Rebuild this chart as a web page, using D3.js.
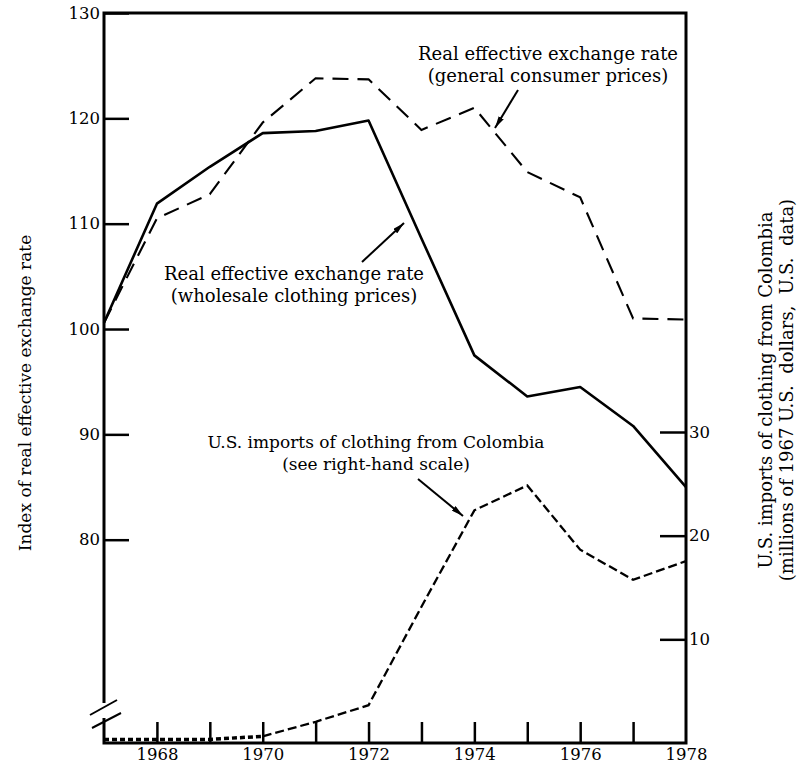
<!DOCTYPE html>
<html>
<head>
<meta charset="utf-8">
<script src="https://cdnjs.cloudflare.com/ajax/libs/d3/7.8.5/d3.min.js"></script>
<style>
  body { margin: 0; background: #fff; }
  text { font-family: "DejaVu Serif", serif; fill: #000; }
  .tick line { stroke: #000; stroke-width: 2.5; }
  .tick text { font-size: 16.5px; }
  .lbl { font-size: 18px; }
</style>
</head>
<body>
<div id="chart"></div>
<script>
var years = [1967, 1968, 1969, 1970, 1971, 1972, 1973, 1974, 1975, 1976, 1977, 1978];
// index values, left scale
var wholesale = [100.6, 111.9, 115.4, 118.6, 118.8, 119.8, 108.6, 97.5, 93.6, 94.5, 90.8, 85.0];
var consumer = [100.6, 110.5, 112.8, 119.6, 123.8, 123.7, 118.9, 121.0, 114.9, 112.5, 101.0, 100.9];
// millions of 1967 US dollars, right scale
var imports = [0.2, 0.2, 0.2, 0.5, 1.9, 3.5, 13.0, 22.3, 24.7, 18.5, 15.6, 17.4];

var leftTicks = [80, 90, 100, 110, 120, 130];
var rightTicks = [10, 20, 30];
var yearLabels = [1968, 1970, 1972, 1974, 1976, 1978];

var margin = {top: 13, left: 104},
    width = 582,
    height = 730;

var svg = d3.select("#chart").append("svg")
    .attr("width", 801)
    .attr("height", 769);

var g = svg.append("g")
    .attr("transform", "translate(" + margin.left + "," + margin.top + ")");

var x = d3.scaleLinear().domain([1967, 1978]).range([0, width]);
var yL = d3.scaleLinear().domain([60.7, 130]).range([height, 0]);
var yR = d3.scaleLinear().domain([0, 30]).range([height, height - 311]);

// axes, ticks pointing inward
g.append("g")
    .call(d3.axisLeft(yL).tickValues(leftTicks).tickSize(-25).tickPadding(4))
    .call(function(a) { a.select(".domain").remove(); });

g.append("g")
    .attr("transform", "translate(" + width + ",0)")
    .call(d3.axisRight(yR).tickValues(rightTicks).tickSize(-26).tickPadding(3))
    .call(function(a) { a.select(".domain").remove(); });

g.append("g")
    .attr("transform", "translate(0," + height + ")")
    .call(d3.axisBottom(x).tickValues(years.slice(1, -1)).tickSize(-21).tickFormat(""))
    .call(function(a) { a.select(".domain").remove(); });

g.append("g")
    .attr("transform", "translate(0," + height + ")")
    .call(d3.axisBottom(x).tickValues(yearLabels).tickSize(0).tickPadding(5).tickFormat(d3.format("d")))
    .call(function(a) { a.select(".domain").remove(); });

g.selectAll(".tick text").attr("fill", "#000");

// frame with a break in the left axis
var frame = g.append("g").attr("stroke", "#000").attr("fill", "none");
frame.append("path").attr("stroke-width", 3)
    .attr("d", "M0," + (height - 40) + "V0H" + width + "V" + height + "H0V" + (height - 25));
frame.append("line").attr("stroke-width", 2)
    .attr("x1", -14).attr("y1", height - 28).attr("x2", 13).attr("y2", height - 43);
frame.append("line").attr("stroke-width", 2)
    .attr("x1", -12).attr("y1", height - 15).attr("x2", 17).attr("y2", height - 30);

var lineL = d3.line().x(function(d, i) { return x(years[i]); }).y(function(d) { return yL(d); });

g.append("path").datum(wholesale)
    .attr("d", lineL)
    .attr("fill", "none").attr("stroke", "#000").attr("stroke-width", 2.6)
    .attr("stroke-linejoin", "round");

g.append("path").datum(consumer)
    .attr("d", lineL)
    .attr("fill", "none").attr("stroke", "#000").attr("stroke-width", 2.1)
    .attr("stroke-dasharray", "16,9");

var pts = imports.map(function(d, i) { return [years[i], d]; });
var lineR = d3.line().x(function(d) { return x(d[0]); }).y(function(d) { return yR(d[1]) - 1.5; });

// dotted near zero until 1970, dashed after
g.append("path").datum(pts.slice(0, 4))
    .attr("d", lineR)
    .attr("fill", "none").attr("stroke", "#000").attr("stroke-width", 3.5)
    .attr("stroke-dasharray", "5,3");

g.append("path").datum(pts.slice(3))
    .attr("d", lineR)
    .attr("fill", "none").attr("stroke", "#000").attr("stroke-width", 2.3)
    .attr("stroke-dasharray", "9,4");

// arrow heads
svg.append("defs").append("marker")
    .attr("id", "head")
    .attr("viewBox", "0 0 12 6")
    .attr("refX", 12).attr("refY", 3)
    .attr("markerWidth", 12).attr("markerHeight", 6)
    .attr("markerUnits", "userSpaceOnUse")
    .attr("orient", "auto")
  .append("path").attr("d", "M0,0L12,3L0,6Z").attr("fill", "#000");

var notes = [
  {lines: ["Real effective exchange rate", "(general consumer prices)"], x: 548, y: 60, size: 18, arrow: [518, 90, 495, 128]},
  {lines: ["Real effective exchange rate", "(wholesale clothing prices)"], x: 294, y: 280, size: 18, arrow: [362, 262, 404, 223]},
  {lines: ["U.S. imports of clothing from Colombia", "(see right-hand scale)"], x: 376, y: 448, size: 17, arrow: [418, 479, 463, 516]}
];

notes.forEach(function(n) {
  var t = svg.append("text").attr("text-anchor", "middle").style("font-size", n.size + "px");
  n.lines.forEach(function(s, i) {
    t.append("tspan").attr("x", n.x).attr("y", n.y + i * 22).text(s);
  });
  svg.append("line")
      .attr("x1", n.arrow[0]).attr("y1", n.arrow[1])
      .attr("x2", n.arrow[2]).attr("y2", n.arrow[3])
      .attr("stroke", "#000").attr("stroke-width", 2)
      .attr("marker-end", "url(#head)");
});

// axis titles
svg.append("text")
    .attr("text-anchor", "middle")
    .style("font-size", "17px")
    .attr("transform", "translate(31,393) rotate(-90)")
    .text("Index of real effective exchange rate");

var rt = svg.append("text").attr("class", "lbl")
    .attr("text-anchor", "middle")
    .attr("transform", "translate(772,390) rotate(-90)");
rt.append("tspan").attr("x", 0).attr("y", 0).text("U.S. imports of clothing from Colombia");
rt.append("tspan").attr("x", 0).attr("y", 21).attr("xml:space", "preserve").text("(millions of 1967 U.S.  dollars,  U.S.  data)");
</script>
</body>
</html>
